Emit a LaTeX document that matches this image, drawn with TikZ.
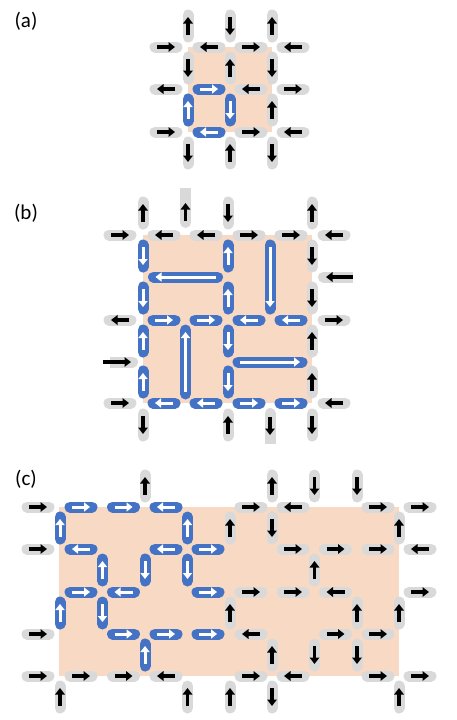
\documentclass[tikz,border=0pt]{standalone}
\usepackage{fontspec}
\setmainfont{Carlito}
\usetikzlibrary{arrows.meta}
\definecolor{pgray}{RGB}{217,217,217}
\definecolor{pblue}{RGB}{68,114,196}
\definecolor{peach}{RGB}{248,217,196}
\tikzset{
  pillg/.style={line width=11pt, line cap=round, draw=pgray},
  pillb/.style={line width=11pt, line cap=round, draw=pblue},
  arrg/.style={line width=3.4pt, draw=black, -{Triangle[length=6.5pt,width=9.5pt]}},
  arrb/.style={line width=3pt, draw=white, -{Triangle[length=6pt,width=9pt]}},
  flatg/.style={fill=pgray, draw=none},
  lbl/.style={font=\fontsize{21}{25}\selectfont, inner sep=0pt}
}
\newcommand\hg[3]{\draw[pillg] ({#1-11},#2) -- ({#1+11},#2);
  \draw[arrg] ({#1-(#3)*9},#2) -- ({#1+(#3)*9},#2);}
\newcommand\hb[3]{\draw[pillb] ({#1-11},#2) -- ({#1+11},#2);
  \draw[arrb] ({#1-(#3)*9},#2) -- ({#1+(#3)*9},#2);}
\newcommand\vg[3]{\draw[pillg] (#1,{#2-11}) -- (#1,{#2+11});
  \draw[arrg] (#1,{#2+(#3)*9}) -- (#1,{#2-(#3)*9});}
\newcommand\vb[3]{\draw[pillb] (#1,{#2-11}) -- (#1,{#2+11});
  \draw[arrb] (#1,{#2+(#3)*9}) -- (#1,{#2-(#3)*9});}
\newcommand\hlb[3]{\draw[pillb] ({#1-32},#2) -- ({#1+32},#2);
  \draw[arrb] ({#1-(#3)*30},#2) -- ({#1+(#3)*30},#2);}
\newcommand\vlb[3]{\draw[pillb] (#1,{#2-32}) -- (#1,{#2+32});
  \draw[arrb] (#1,{#2+(#3)*30}) -- (#1,{#2-(#3)*30});}
\begin{document}
\begin{tikzpicture}[x=1pt,y=-1pt]
\useasboundingbox (0,0) rectangle (457,720);
% labels
\node[lbl] (la) at (26,21) {(a)};
\node[lbl] (lb) at (26,213) {(b)};
\node[lbl] (lc) at (26,479) {(c)};
% peach regions
\fill[peach] (188,47) rectangle (272,132);
\fill[peach] (143,235) rectangle (312,403);
\fill[peach] (59,507) rectangle (399,676);
% ---------------- panel (a)
\foreach \x/\y/\d in {166/47/1,209/47/-1,251/47/1,293/47/-1,
  166/89/-1,251/89/-1,293/89/1,
  166/132/1,251/132/1,293/132/-1} {\hg{\x}{\y}{\d}}
\foreach \x/\y/\d in {209/89/1,209/132/-1} {\hb{\x}{\y}{\d}}
\foreach \x/\y/\d in {188/26/1,188/68/-1,188/153/-1,
  230/26/-1,230/68/1,230/153/1,
  272/26/1,272/68/-1,272/110/1,272/153/-1} {\vg{\x}{\y}{\d}}
\foreach \x/\y/\d in {188/110/1,230/110/-1} {\vb{\x}{\y}{\d}}
% ---------------- panel (b)
\foreach \x/\y/\d in {120/235/1,164/235/-1,206/235/-1,249/235/1,291/235/1,334/235/-1,
  120/320/-1,334/320/1,
  120/403/1,334/403/-1} {\hg{\x}{\y}{\d}}
\foreach \x/\y/\d in {164/320/1,206/320/1,249/320/-1,291/320/-1,
  164/403/-1,206/403/-1,249/403/1,291/403/1} {\hb{\x}{\y}{\d}}
\foreach \x/\y/\d in {143/213/1,143/425/-1,
  228/213/-1,228/425/1,
  312/213/1,312/256/-1,312/298/-1,312/341/1,312/382/1,312/425/-1} {\vg{\x}{\y}{\d}}
\foreach \x/\y/\d in {143/256/-1,143/298/-1,143/341/1,143/382/1,
  228/256/1,228/298/1,228/341/-1,228/382/-1} {\vb{\x}{\y}{\d}}
\hlb{185.5}{277}{-1}
\hlb{270}{362}{1}
\vlb{185.5}{362}{1}
\vlb{270}{277}{-1}
% special stubs (b)
\draw[pillg] (185.5,208) -- (185.5,222.5);
\fill[flatg] (180,188) rectangle (191,210);
\draw[arrg] (185.5,221) -- (185.5,203);
\draw[pillg] (270,413.5) -- (270,428);
\fill[flatg] (264.5,426) rectangle (275.5,444);
\draw[arrg] (270,417) -- (270,435);
\draw[pillg] (125,362) -- (132.5,362);
\fill[flatg] (110,356.5) rectangle (127,367.5);
\draw[arrg] (103,362) -- (131,362);
\draw[pillg] (323.5,277) -- (335,277);
\fill[flatg] (333,271.5) rectangle (353,282.5);
\draw[arrg] (353,277) -- (326,277);
% ---------------- panel (c)
\foreach \x/\y/\d in {38/507/1,251/507/1,293/507/-1,378/507/1,420/507/1,
  38/549/1,293/549/1,335.5/549/1,378/549/1,420/549/-1,
  251/592/1,293/592/1,335.5/592/-1,420/592/1,
  38/634/1,251/634/-1,335.5/634/1,378/634/1,
  38/676/1,81/676/1,123.5/676/1,166/676/-1,251/676/1,293/676/-1,378/676/1,420/676/1} {\hg{\x}{\y}{\d}}
\foreach \x/\y/\d in {81/507/1,123.5/507/1,166/507/-1,
  81/549/-1,166/549/-1,208/549/1,
  81/592/1,123.5/592/-1,208/592/1,
  123.5/634/1,166/634/1,208/634/1} {\hb{\x}{\y}{\d}}
\foreach \x/\y/\d in {145/486/1,272/486/1,314.5/486/-1,357/486/-1,
  230/528/1,272/528/-1,399/528/1,
  314.5/570/1,
  230/613/1,357/613/1,399/613/1,
  272/655/1,314.5/655/-1,357/655/-1,
  60/697/1,187.5/697/1,230/697/1,272/697/-1,399/697/1} {\vg{\x}{\y}{\d}}
\foreach \x/\y/\d in {60/528/1,187.5/528/1,
  102.5/570/1,145/570/-1,187.5/570/-1,
  60/613/1,102.5/613/-1,
  145/655/1} {\vb{\x}{\y}{\d}}
\end{tikzpicture}
\end{document}
